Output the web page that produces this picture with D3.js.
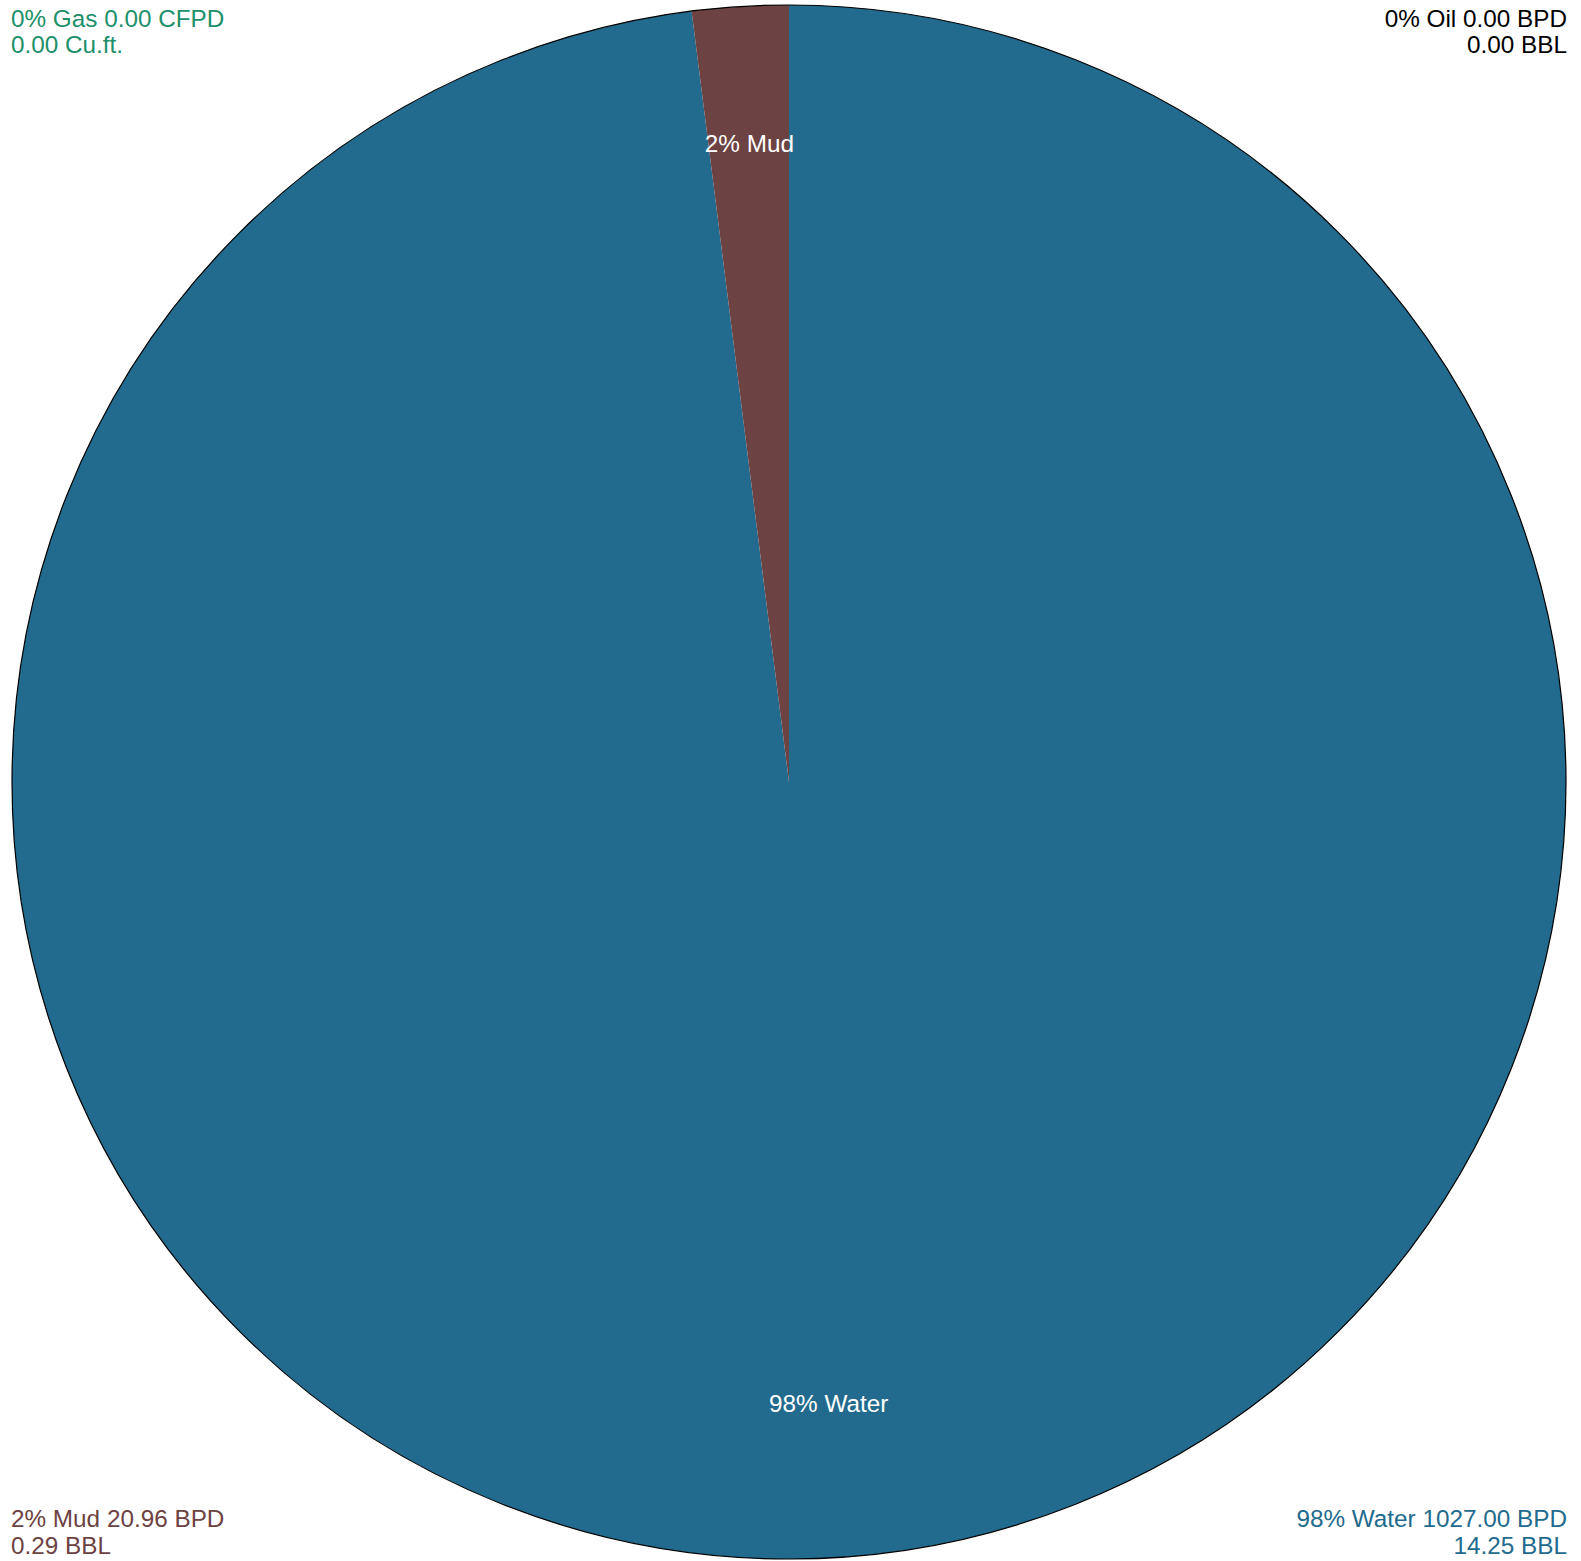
<!DOCTYPE html>
<html>
<head>
<meta charset="utf-8">
<script src="https://cdn.jsdelivr.net/npm/d3@7"></script>
<style>
html,body{margin:0;padding:0;background:#fff;}
svg{display:block;}
text{font-family:"Liberation Sans",Arial,Helvetica,sans-serif;}
</style>
</head>
<body>
<svg id="chart" width="1581" height="1561"></svg>
<script>
// Data
const categories = ["Oil", "Gas", "Water", "Mud"];
const rates = [0.00, 0.00, 1027.00, 20.96];          // BPD / CFPD
const rateUnits = ["BPD", "CFPD", "BPD", "BPD"];
const volumes = [0.00, 0.00, 14.25, 0.29];            // BBL / Cu.ft.
const volumeUnits = ["BBL", "Cu.ft.", "BBL", "BBL"];
const percents = [0, 0, 98, 2];
const colors = ["#000000", "#20906a", "#236b8e", "#6d4242"];

const W = 1581, H = 1561;
const cx = 789, cy = 782, R = 777;
const FS = 24.3;
const svg = d3.select("#chart");

const data = categories.map((c, i) => ({
  name: c, rate: rates[i], rateUnit: rateUnits[i],
  vol: volumes[i], volUnit: volumeUnits[i], pct: percents[i], color: colors[i]
}));

const pie = d3.pie().sort(null).value(d => d.rate);
const arcs = pie(data);
const arc = d3.arc().innerRadius(0).outerRadius(R);
const labelArc = d3.arc().innerRadius(R * 0.813).outerRadius(R * 0.813);

const g = svg.append("g").attr("transform", `translate(${cx},${cy})`);

g.selectAll("path.slice")
  .data(arcs.filter(a => a.value > 0))
  .join("path")
  .attr("class", "slice")
  .attr("d", arc)
  .attr("fill", d => d.data.color);

g.append("circle")
  .attr("r", R)
  .attr("fill", "none")
  .attr("stroke", "#000")
  .attr("stroke-width", 1.2);

g.selectAll("text.inlabel")
  .data(arcs.filter(a => a.value > 0))
  .join("text")
  .attr("class", "inlabel")
  .attr("transform", d => { const c = labelArc.centroid(d); return `translate(${c[0]},${c[1]})`; })
  .attr("text-anchor", "middle")
  .attr("fill", "#fff")
  .attr("font-size", FS)
  .text(d => `${d.data.pct}% ${d.data.name}`);

// Corner labels
const corners = {
  Gas:   {x: 11,   y: 26.7, anchor: "start", dy: 26.7},
  Oil:   {x: 1567, y: 26.7, anchor: "end",   dy: 26.7},
  Mud:   {x: 11,   y: 1527.3, anchor: "start", dy: 27},
  Water: {x: 1567, y: 1527.3, anchor: "end",   dy: 27}
};
data.forEach(d => {
  const p = corners[d.name];
  const t = svg.append("text")
    .attr("x", p.x).attr("y", p.y)
    .attr("text-anchor", p.anchor)
    .attr("fill", d.color)
    .attr("font-size", FS);
  t.append("tspan").attr("x", p.x).text(`${d.pct}% ${d.name} ${d.rate.toFixed(2)} ${d.rateUnit}`);
  t.append("tspan").attr("x", p.x).attr("dy", p.dy).text(`${d.vol.toFixed(2)} ${d.volUnit}`);
});
</script>
</body>
</html>
